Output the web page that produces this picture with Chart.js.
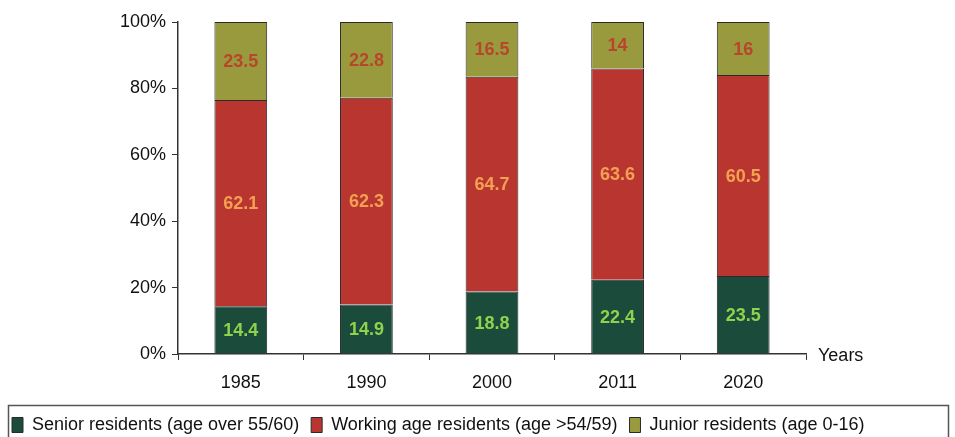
<!DOCTYPE html>
<html>
<head>
<meta charset="utf-8">
<script src="https://cdn.jsdelivr.net/npm/chart.js@4"></script>
<style>
  html, body { margin: 0; padding: 0; background: #fff; }
  #wrap { width: 955px; height: 437px; }
</style>
</head>
<body>
<div id="wrap"><canvas id="popChart" width="955" height="437"></canvas></div>
<script>
// years and shares (percent) per age group
const years = ['1985', '1990', '2000', '2011', '2020'];
const senior = [14.4, 14.9, 18.8, 22.4, 23.5];
const working = [62.1, 62.3, 64.7, 63.6, 60.5];
const junior = [23.5, 22.8, 16.5, 14, 16];
const yTicks = [0, 20, 40, 60, 80, 100];

const FONT = 'Liberation Sans, Arial, sans-serif';
const LEGEND_SHIFT = 7;

// value labels inside each bar segment
const segLabels = {
  id: 'segLabels',
  afterDatasetsDraw(chart) {
    const ctx = chart.ctx;
    ctx.save();
    ctx.font = 'bold 18px ' + FONT;
    ctx.textAlign = 'center';
    ctx.textBaseline = 'middle';
    chart.data.datasets.forEach(function(ds, i) {
      const meta = chart.getDatasetMeta(i);
      meta.data.forEach(function(bar, j) {
        const mid = (bar.y + bar.base) / 2;
        ctx.fillStyle = ds.labelColor;
        ctx.fillText(String(ds.data[j]), bar.x, mid + 1);
      });
    });
    ctx.restore();
  }
};

// "Years" axis caption and frame round the legend
const extras = {
  id: 'extras',
  afterDraw(chart) {
    const ctx = chart.ctx;
    const area = chart.chartArea;
    ctx.save();
    ctx.font = '18px ' + FONT;
    ctx.fillStyle = '#111';
    ctx.textAlign = 'left';
    ctx.textBaseline = 'middle';
    ctx.fillText('Years', area.right + 12, area.bottom + 2);
    ctx.strokeStyle = '#555';
    ctx.lineWidth = 1.5;
    ctx.strokeRect(8.5, 405.5, 940, 40);
    ctx.restore();
  }
};

const ctx = document.getElementById('popChart').getContext('2d');

new Chart(ctx, {
  type: 'bar',
  data: {
    labels: years,
    datasets: [
      {
        label: 'Senior residents (age over 55/60)',
        data: senior,
        backgroundColor: '#1b4b3a',
        borderColor: '#2a2a2a',
        borderWidth: 1,
        labelColor: '#8ed24e'
      },
      {
        label: 'Working age residents (age >54/59)',
        data: working,
        backgroundColor: '#b93630',
        borderColor: '#2a2a2a',
        borderWidth: 1,
        labelColor: '#f3a052'
      },
      {
        label: 'Junior residents (age 0-16)',
        data: junior,
        backgroundColor: '#999a3e',
        borderColor: '#2a2a2a',
        borderWidth: 1,
        labelColor: '#b8462a'
      }
    ]
  },
  options: {
    responsive: false,
    animation: false,
    layout: { padding: { left: 0, right: 0, top: 22, bottom: -LEGEND_SHIFT } },
    datasets: {
      bar: { categoryPercentage: 1, barPercentage: 0.42 }
    },
    plugins: {
      legend: {
        position: 'bottom',
        align: 'start',
        labels: {
          font: { family: FONT, size: 18 },
          color: '#111',
          boxWidth: 11,
          boxHeight: 15,
          padding: 12
        }
      },
      tooltip: { enabled: false }
    },
    scales: {
      x: {
        stacked: true,
        afterFit: function(scale) {
          const lg = scale.chart.legend;
          const h = lg && lg.height ? lg.height : 30;
          scale.height = Math.max(437 + LEGEND_SHIFT - 354 - h, 40);
        },
        grid: {
          drawOnChartArea: false,
          tickLength: 6,
          color: '#333',
          offset: true
        },
        border: { color: '#333', width: 1.5 },
        ticks: {
          font: { family: FONT, size: 18 },
          color: '#111',
          padding: 12
        }
      },
      y: {
        stacked: true,
        min: 0,
        max: 100,
        afterFit: function(scale) { scale.width = 178; },
        afterBuildTicks: function(scale) {
          scale.ticks = yTicks.map(function(v) { return { value: v }; });
        },
        grid: {
          drawOnChartArea: false,
          tickLength: 6,
          color: '#333'
        },
        border: { color: '#333', width: 1.5 },
        ticks: {
          font: { family: FONT, size: 18 },
          color: '#111',
          padding: 6,
          callback: function(v) { return v + '%'; }
        }
      },
      // empty right-hand gutter that holds the "Years" caption
      gutter: {
        type: 'linear',
        position: 'right',
        display: true,
        afterFit: function(scale) { scale.width = 149; },
        grid: { display: false },
        border: { display: false },
        ticks: { display: false }
      }
    }
  },
  plugins: [segLabels, extras]
});
</script>
</body>
</html>
